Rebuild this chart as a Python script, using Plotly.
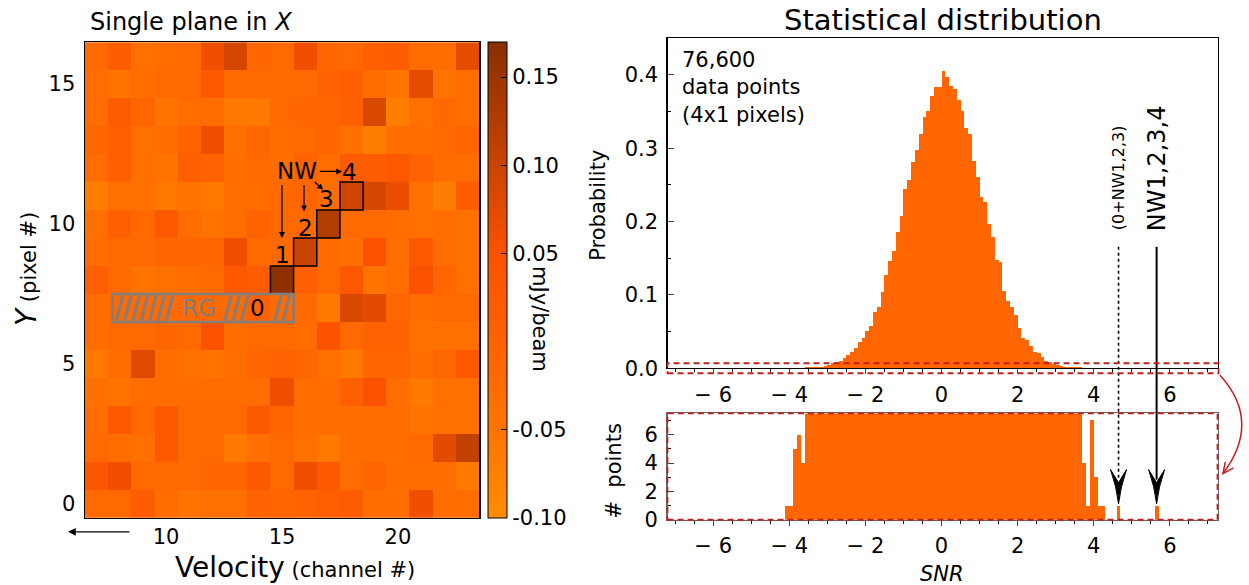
import plotly.graph_objects as go

W, H = 1249, 585          # reference picture size (layout below is designed in these pixels)
FIG_H = 599               # rendered height that the capture maps onto the 585-pixel picture
FONT = "DejaVu Sans"

# ---------------- data: single plane (channels x pixels) ----------------
channels = list(range(7, 24))
pixels = list(range(0, 17))
flux = [
    [-0.02, -0.02, 0.02, -0.03, -0.05, -0.04, -0.04, 0.00, -0.01, 0.00, 0.01, 0.02, -0.03, -0.03, 0.06, -0.03, -0.03],   # Y=0
    [0.04, 0.06, -0.02, -0.02, -0.02, -0.01, -0.01, 0.03, -0.02, 0.06, 0.03, -0.03, -0.01, -0.03, -0.03, -0.03, -0.06],  # Y=1
    [-0.02, -0.03, -0.04, 0.03, -0.02, -0.02, -0.06, -0.04, -0.02, -0.04, -0.06, -0.03, -0.03, -0.03, -0.02, 0.075, 0.11],  # Y=2
    [-0.03, 0.03, -0.02, 0.03, -0.02, -0.02, -0.02, 0.03, -0.01, -0.03, -0.03, -0.03, -0.03, -0.03, -0.05, -0.04, -0.04],  # Y=3
    [-0.04, -0.05, -0.03, -0.03, -0.03, -0.03, -0.03, -0.03, 0.06, -0.03, -0.03, 0.01, 0.05, -0.03, -0.06, -0.04, -0.04],  # Y=4
    [-0.06, -0.03, 0.08, -0.03, -0.04, -0.05, -0.03, -0.01, 0.00, -0.01, -0.04, -0.06, -0.01, -0.01, -0.03, -0.01, 0.03],  # Y=5
    [-0.03, -0.02, -0.02, -0.01, -0.02, 0.05, -0.03, -0.02, -0.02, -0.03, 0.05, -0.02, 0.00, 0.00, -0.04, -0.04, -0.04],  # Y=6
    [-0.03, -0.02, -0.02, -0.02, -0.02, -0.02, -0.02, 0.00, -0.02, -0.02, -0.06, 0.085, 0.075, -0.01, -0.03, -0.02, -0.02],  # Y=7
    [0.01, -0.02, -0.05, -0.04, -0.03, -0.02, 0.03, 0.02, 0.165, 0.01, -0.02, 0.03, -0.05, -0.03, 0.05, -0.01, -0.04],  # Y=8
    [-0.03, -0.02, -0.02, -0.01, -0.01, -0.01, 0.06, -0.02, -0.02, 0.10, -0.02, -0.04, 0.05, -0.03, 0.03, -0.03, -0.04],  # Y=9
    [-0.04, 0.01, -0.02, 0.03, -0.03, -0.05, -0.03, 0.00, -0.02, -0.02, 0.125, -0.02, -0.02, -0.03, -0.04, -0.03, -0.04],  # Y=10
    [-0.07, -0.04, -0.04, -0.06, -0.05, -0.06, -0.03, -0.03, -0.02, -0.01, -0.03, 0.095, 0.09, 0.065, -0.04, -0.07, 0.02],  # Y=11
    [-0.03, 0.01, -0.04, -0.05, 0.01, 0.00, -0.03, -0.02, -0.03, 0.00, -0.03, 0.02, 0.02, 0.03, 0.00, -0.03, -0.03],  # Y=12
    [-0.01, 0.01, -0.04, -0.03, 0.00, 0.06, -0.04, -0.01, -0.03, -0.02, -0.01, -0.04, -0.07, -0.03, -0.03, -0.02, -0.01],  # Y=13
    [-0.03, 0.02, -0.01, -0.05, -0.03, -0.03, -0.06, -0.06, -0.02, -0.01, -0.01, 0.01, 0.085, -0.07, -0.04, -0.02, -0.03],  # Y=14
    [-0.03, -0.05, -0.03, -0.02, -0.02, 0.03, -0.02, -0.02, -0.02, -0.02, 0.00, 0.01, -0.03, -0.05, 0.07, -0.05, -0.03],  # Y=15
    [-0.02, 0.02, -0.04, -0.03, -0.02, 0.06, 0.09, -0.01, -0.02, 0.06, -0.01, -0.02, 0.01, 0.02, -0.03, -0.03, 0.07],  # Y=16
]
nw_channels = [15, 16, 17, 18]
nw_pixels = [8, 9, 10, 11]
nw_labels = ["1", "2", "3", "4"]
rg_x = [7.68, 15.5]
rg_y = 7
cbar_ticks = [0.15, 0.10, 0.05, -0.05, -0.10]
cbar_ticktext = ["0.15", "0.10", "0.05", "-0.05", "-0.10"]

# ---------------- data: SNR histogram ----------------
n_points = 76600
bin_width = 0.1
bin_start = -4.1
counts = [
    1, 1, 5, 6, 4, 9, 10, 12, 14, 17,            # -4.1 .. -3.2
    28, 38, 52, 63, 73, 111, 143, 167, 209, 272,  # -3.1 .. -2.2
    313, 390, 446, 592, 643, 794, 973, 1118, 1226, 1421,  # -2.1 .. -1.2
    1586, 1869, 1969, 2152, 2283, 2451, 2620, 2689, 2842, 2934,  # -1.1 .. -0.2
    2934, 3102, 3041, 2949, 2911, 2796, 2681, 2505, 2451, 2168,  # -0.1 .. 0.8
    1992, 1785, 1731, 1501, 1371, 1126, 1111, 804, 705, 636,     # 0.9 .. 1.8
    559, 421, 314, 299, 237, 169, 161, 115, 77, 61,              # 1.9 .. 2.8
    46, 31, 23, 11, 10, 9, 10, 8, 4, 1,                          # 2.9 .. 3.8
    7, 3, 1, 1, 0, 0, 0, 1, 0, 0,                                # 3.9 .. 4.8
    0, 0, 0, 0, 0, 0, 0, 1,                                      # 4.9 .. 5.6
]
snr_marked = [4.65, 5.65]
x_ticks = [-6, -4, -2, 0, 2, 4, 6]
x_ticktext = ["\u2212 6", "\u2212 4", "\u2212 2", "0", "2", "4", "6"]

centers = [bin_start + (i + 0.5) * bin_width for i in range(len(counts))]
prob = [c / (n_points * bin_width) for c in counts]

# ---------------- layout geometry (reference pixels) ----------------
HM = (85, 479, 42, 516)
TOP = (667.5, 1217.5, 38, 367)
BOT = (667.5, 1217.5, 412, 518)
XR = [-7.2, 7.25]


def PX(p):
    return p / W


def PY(p):
    return 1 - p / H


def snr_px(v):
    return TOP[0] + (v - XR[0]) / (XR[1] - XR[0]) * (TOP[1] - TOP[0])


ORANGE = "#FF6600"
RED = "#C41E1E"

colorscale = [
    [0.0, "#FF8C00"],
    [0.185, "#FF7400"],
    [0.37, "#FF6200"],
    [0.556, "#FA5200"],
    [0.741, "#C94400"],
    [1.0, "#883000"],
]

fig = go.Figure()

fig.add_trace(go.Heatmap(
    x=channels, y=pixels, z=flux, zmin=-0.10, zmax=0.17,
    colorscale=colorscale, xaxis="x", yaxis="y",
    colorbar=dict(
        x=PX(488), xanchor="left", y=PY(HM[3]), yanchor="bottom",
        len=(HM[3] - HM[2]) / H, lenmode="fraction",
        thickness=19, thicknessmode="pixels", xpad=0, ypad=0,
        outlinewidth=1, outlinecolor="black",
        tickvals=cbar_ticks, ticktext=cbar_ticktext,
        ticks="inside", ticklen=6, tickcolor="black",
        tickfont=dict(family=FONT, size=21, color="black"),
    ),
    hoverinfo="skip",
))

fig.add_trace(go.Bar(x=centers, y=prob, width=bin_width, marker=dict(color=ORANGE, line=dict(width=0)),
                     xaxis="x2", yaxis="y2", showlegend=False, hoverinfo="skip"))
fig.add_trace(go.Bar(x=centers, y=counts, width=bin_width, marker=dict(color=ORANGE, line=dict(width=0)),
                     xaxis="x3", yaxis="y3", showlegend=False, hoverinfo="skip"))

tickfont = dict(family=FONT, size=21, color="black")

fig.update_layout(
    width=W, height=FIG_H, margin=dict(l=0, r=0, t=0, b=0, pad=0), autosize=False,
    paper_bgcolor="white", plot_bgcolor="white", bargap=0,
    font=dict(family=FONT, color="black"),
    showlegend=False,
    xaxis=dict(domain=[PX(HM[0]), PX(HM[1])], range=[6.5, 23.5], tickvals=[10, 15, 20],
               showline=True, mirror=True, linecolor="black", linewidth=1.5, showgrid=False,
               zeroline=False, ticks="", tickfont=tickfont, anchor="y", ticklabelstandoff=0),
    yaxis=dict(domain=[PY(HM[3]), PY(HM[2])], range=[-0.5, 16.5], tickvals=[0, 5, 10, 15],
               showline=True, mirror=True, linecolor="black", linewidth=1.5, showgrid=False,
               zeroline=False, ticks="", tickfont=tickfont, anchor="x", ticklabelstandoff=4),
    xaxis2=dict(domain=[PX(TOP[0]), PX(TOP[1])], range=XR, tickvals=x_ticks, ticktext=x_ticktext,
                showline=True, mirror=True, linecolor="black", linewidth=1.2, showgrid=False,
                zeroline=False, ticks="outside", ticklen=5, tickfont=tickfont, anchor="y2",
                ticklabelstandoff=2,
                minor=dict(dtick=0.5, ticks="outside", ticklen=3, tickcolor="black")),
    yaxis2=dict(domain=[PY(TOP[3]), PY(TOP[2])], range=[0, 0.45], tickvals=[0, 0.1, 0.2, 0.3, 0.4],
                ticktext=["0.0", "0.1", "0.2", "0.3", "0.4"],
                showline=True, mirror=True, linecolor="black", linewidth=1.2, showgrid=False,
                zeroline=False, ticks="inside", ticklen=6, tickfont=tickfont, anchor="x2",
                ticklabelstandoff=4,
                minor=dict(dtick=0.05, ticks="inside", ticklen=3, tickcolor="black")),
    xaxis3=dict(domain=[PX(BOT[0]), PX(BOT[1])], range=XR, tickvals=x_ticks, ticktext=x_ticktext,
                showline=True, mirror=True, linecolor="#666666", linewidth=1.5, showgrid=False,
                zeroline=False, ticks="outside", ticklen=5, tickfont=tickfont, anchor="y3",
                ticklabelstandoff=2,
                minor=dict(dtick=0.5, ticks="outside", ticklen=3, tickcolor="black")),
    yaxis3=dict(domain=[PY(BOT[3]), PY(BOT[2])], range=[0, 7.5], tickvals=[0, 2, 4, 6],
                showline=True, mirror=True, linecolor="#666666", linewidth=1.5, showgrid=False,
                zeroline=False, ticks="inside", ticklen=6, tickfont=tickfont, anchor="x3",
                ticklabelstandoff=4,
                minor=dict(dtick=1, ticks="inside", ticklen=3, tickcolor="black")),
)

shapes = []
annotations = []


def note(text, x, y, size, xref="paper", yref="paper", angle=0, xanchor="center", yanchor="middle",
         color="black", **kw):
    d = dict(text=text, x=x, y=y, xref=xref, yref=yref, textangle=angle, xanchor=xanchor, yanchor=yanchor,
             showarrow=False, font=dict(family=FONT, size=size, color=color))
    d.update(kw)
    return d


# NW boxes
for c, p in zip(nw_channels, nw_pixels):
    shapes.append(dict(type="rect", xref="x", yref="y", x0=c - 0.5, x1=c + 0.5, y0=p - 0.5, y1=p + 0.5,
                       line=dict(color="black", width=1.5)))

# RG hatched box
hx = rg_x[0] + 0.17
while hx + 0.28 <= rg_x[1] + 0.05:
    if not (10.3 <= hx <= 12.5 or 13.5 <= hx <= 14.45):
        shapes.append(dict(type="line", xref="x", yref="y", x0=hx, x1=hx + 0.28,
                           y0=rg_y - 0.45, y1=rg_y + 0.45, line=dict(color="#7F7F7F", width=3)))
    hx += 0.36
shapes.append(dict(type="rect", xref="x", yref="y", x0=rg_x[0], x1=rg_x[1], y0=rg_y - 0.5, y1=rg_y + 0.5,
                   line=dict(color="#7F7F7F", width=2.5)))

annotations.append(note("RG", 11.43, rg_y, 23, "x", "y", color="#7F7F7F"))
annotations.append(note("0", 13.96, rg_y, 23, "x", "y"))
annotations.append(note("NW", 15.63, 11.9, 23, "x", "y"))
for lab, lx, ly in zip(nw_labels, [15.0, 16.0, 16.93, 17.9], [8.9, 9.85, 10.9, 11.85]):
    annotations.append(note(lab, lx, ly, 23, "x", "y"))
for (x0, y0, x1, y1) in [(15.0, 11.45, 15.0, 9.5), (15.95, 11.45, 15.95, 10.45),
                         (16.35, 11.55, 16.78, 11.22), (16.56, 11.88, 17.6, 11.88)]:
    annotations.append(dict(text="", x=x1, y=y1, ax=x0, ay=y0, xref="x", yref="y", axref="x", ayref="y",
                            showarrow=True, arrowhead=2, arrowsize=1, arrowwidth=1.2, arrowcolor="black"))

# left arrow under x axis
annotations.append(dict(text="", x=PX(68), y=PY(530), ax=63, ay=0, xref="paper", yref="paper",
                        showarrow=True, arrowhead=2, arrowsize=1.2, arrowwidth=1.3, arrowcolor="black"))

# titles and axis labels
annotations += [
    note("Single plane in <i>X</i>", PX(88), PY(22), 24, xanchor="left"),
    note("Statistical distribution", PX(943), PY(20), 29),
    note("Velocity<span style='font-size:21px'> (channel #)</span>", PX(173), PY(566), 28, xanchor="left"),
    note("<i>Y</i><span style='font-size:21px'> (pixel #)</span>", PX(27), PY(268), 28, angle=-90),
    note("mJy/beam", PX(540), PY(318), 21, angle=90),
    note("76,600<br>data points<br>(4x1 pixels)", PX(680), PY(46), 21, xanchor="left", yanchor="top",
         align="left"),
    note("Probability", PX(598), PY(205), 21, angle=-90),
    note("#  points", PX(614), PY(470), 21, angle=-90),
    note("<i>SNR</i>", PX(942), PY(572), 21),
    note("(0+NW1,2,3)", PX(snr_px(snr_marked[0])), PY(177), 16, angle=-90),
    note("NW1,2,3,4", PX(snr_px(snr_marked[1])), PY(168), 24, angle=-90),
]

# arrows to the marked SNR bins
for v, dash, wd in zip(snr_marked, ["dot", "solid"], [1.6, 2.0]):
    xp = snr_px(v)
    shapes.append(dict(type="line", xref="paper", yref="paper", x0=PX(xp), x1=PX(xp), y0=PY(246), y1=PY(478),
                       line=dict(color="black", width=wd, dash=dash)))
    path = (f"M {PX(xp - 8)},{PY(468)} Q {PX(xp - 2)},{PY(485)} {PX(xp)},{PY(502)} "
            f"Q {PX(xp + 2)},{PY(485)} {PX(xp + 8)},{PY(468)} L {PX(xp)},{PY(481)} Z")
    shapes.append(dict(type="path", xref="paper", yref="paper", path=path, fillcolor="black",
                       line=dict(color="black", width=1)))

# red dashed zoom boxes
shapes.append(dict(type="rect", xref="paper", yref="paper", x0=PX(TOP[0]), x1=PX(TOP[1] + 1), y0=PY(372),
                   y1=PY(362), line=dict(color=RED, width=1.8, dash="6px,4px")))
shapes.append(dict(type="rect", xref="paper", yref="paper", x0=PX(BOT[0]), x1=PX(BOT[1]), y0=PY(BOT[3]),
                   y1=PY(BOT[2]), line=dict(color=RED, width=1.8, dash="6px,4px")))

# red curved arrow
sx, sy = 1220, 374
cx, cy = 1262, 420
ex, ey = 1223, 472
shapes.append(dict(type="path", xref="paper", yref="paper",
                   path=f"M {PX(sx)},{PY(sy)} Q {PX(cx)},{PY(cy)} {PX(ex)},{PY(ey)}",
                   line=dict(color=RED, width=1.5)))
shapes.append(dict(type="path", xref="paper", yref="paper",
                   path=f"M {PX(ex + 10.5)},{PY(ey - 5.8)} L {PX(ex)},{PY(ey)} L {PX(ex + 2.3)},{PY(ey - 11.8)}",
                   line=dict(color=RED, width=1.5)))

fig.update_layout(shapes=shapes, annotations=annotations)

post = (
    "document.documentElement.style.margin='0';document.documentElement.style.padding='0';"
    "document.documentElement.style.overflow='hidden';"
    "document.body.style.margin='0';document.body.style.padding='0';document.body.style.overflow='hidden';"
    "var d=document.getElementsByClassName('plotly-graph-div')[0];"
    "d.style.position='fixed';d.style.left='0px';d.style.top='0px';"
)
fig.write_html("out.html", config={"displayModeBar": False, "staticPlot": True}, post_script=post)
